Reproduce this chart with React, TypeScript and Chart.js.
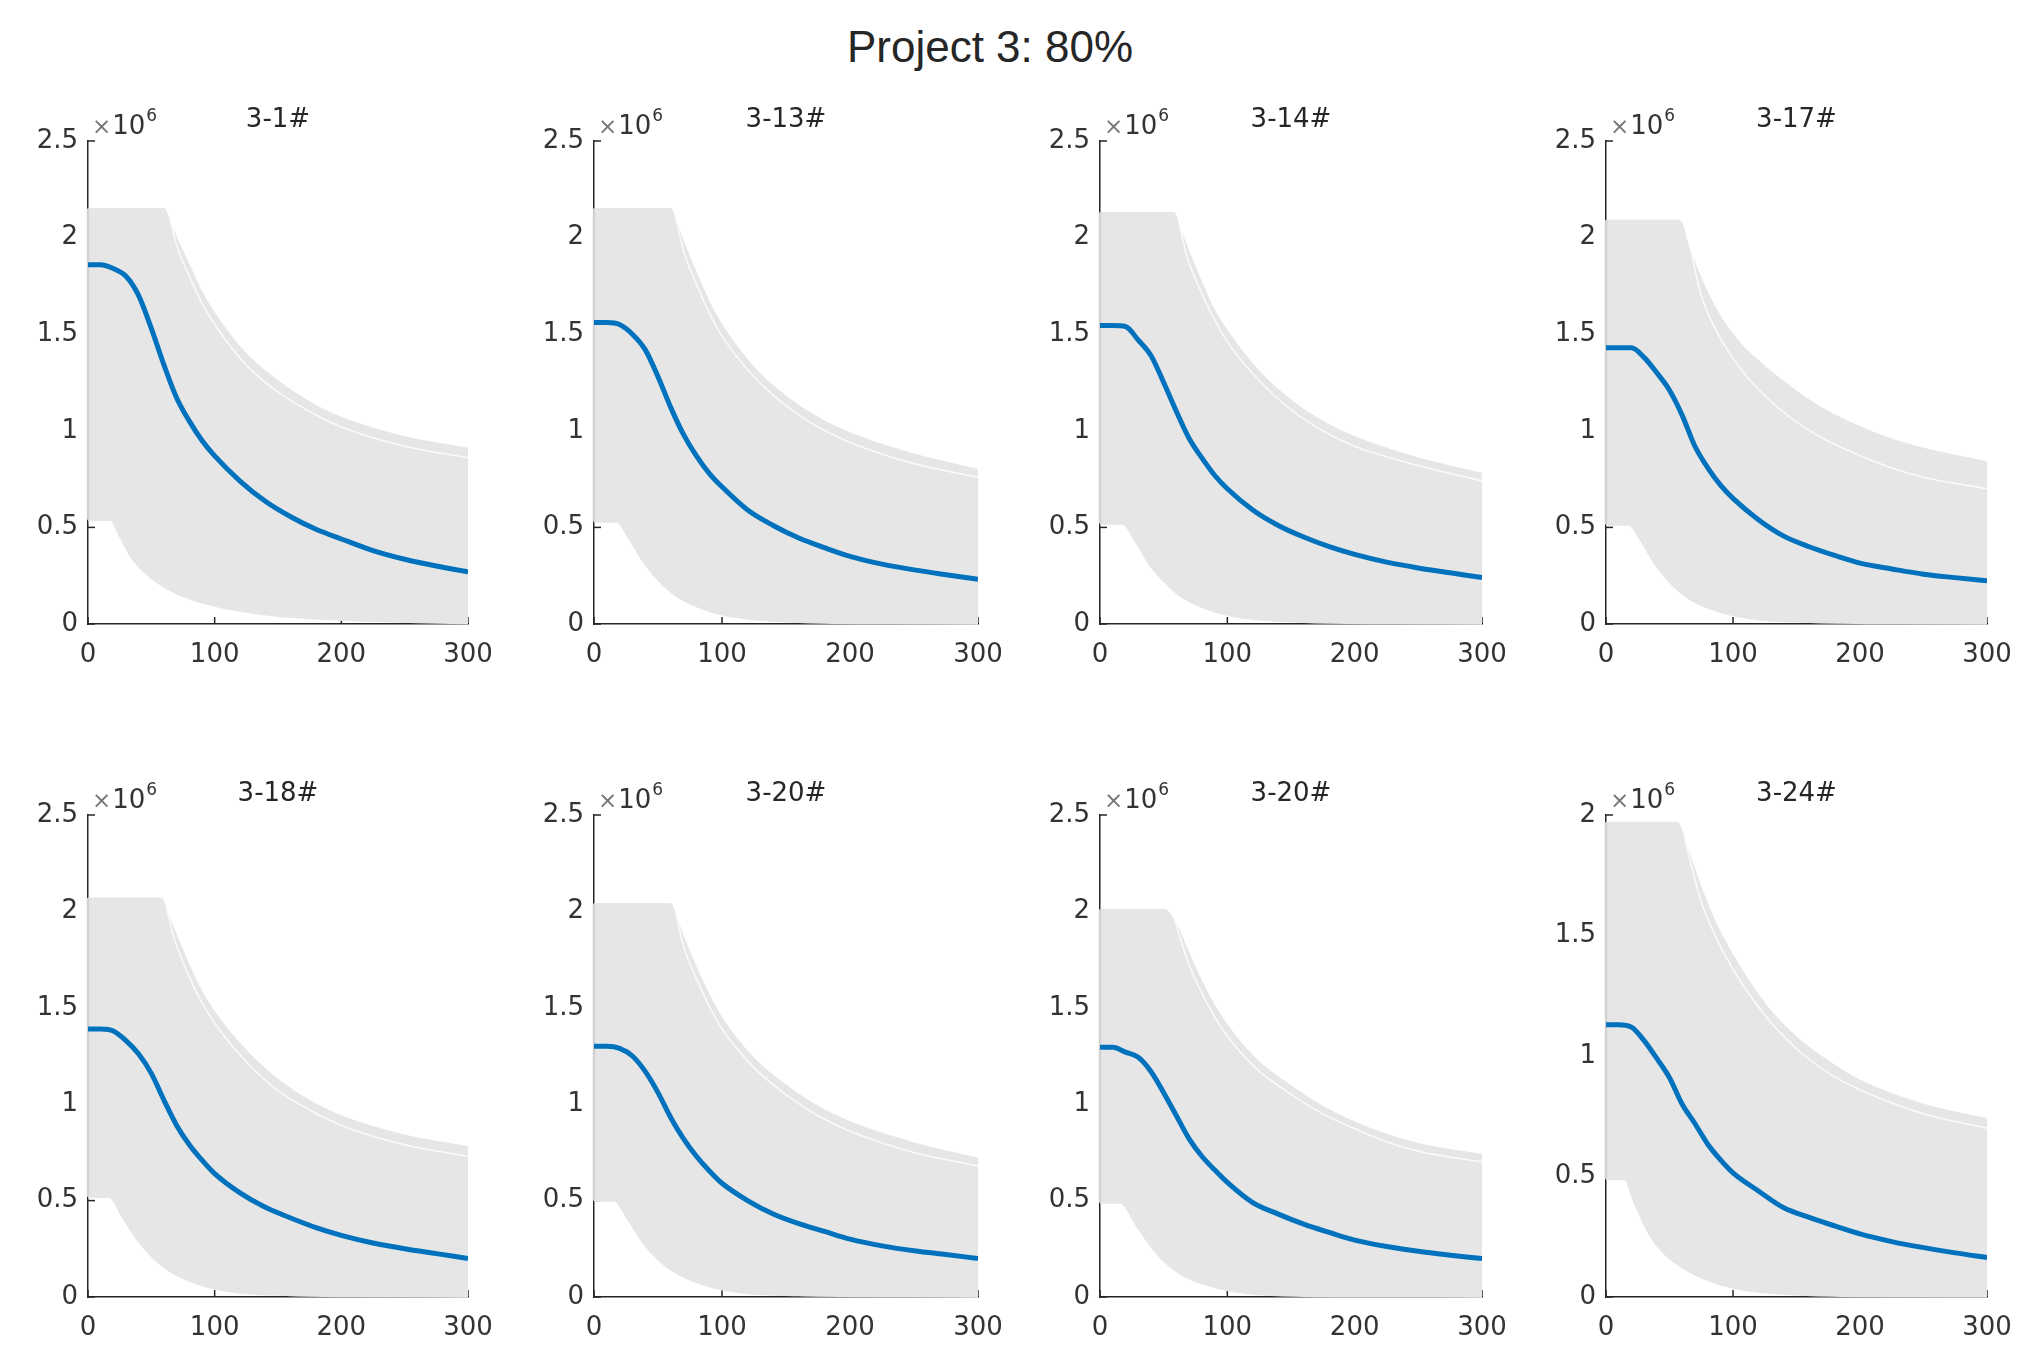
import React, { useEffect, useRef } from 'react';
import { Chart, registerables } from 'chart.js';

Chart.register(...registerables);

// ---------------- DATA (values in units of 10^6) ----------------
const FIGURE_TITLE = 'Project 3: 80%';
const PANEL_TITLES = ['3-1#', '3-13#', '3-14#', '3-17#', '3-18#', '3-20#', '3-20#', '3-24#'];
const Y_MAX = [2.5, 2.5, 2.5, 2.5, 2.5, 2.5, 2.5, 2.0];
const X_TICKS = [0, 100, 200, 300];
const Y_TICKS_25 = [0, 0.5, 1, 1.5, 2, 2.5];
const Y_TICKS_20 = [0, 0.5, 1, 1.5, 2];

// mean (blue) curves
const MEAN_X = [0, 10, 20, 30, 40, 50, 60, 70, 80, 90, 100, 120, 140, 160, 180, 200, 225, 250, 275, 300];
const MEAN_1 = [1.86, 1.86, 1.84, 1.80, 1.70, 1.53, 1.34, 1.17, 1.05, 0.95, 0.87, 0.74, 0.635, 0.555, 0.49, 0.44, 0.38, 0.335, 0.30, 0.27];
const MEAN_2 = [1.56, 1.56, 1.55, 1.50, 1.42, 1.28, 1.12, 0.98, 0.87, 0.78, 0.71, 0.59, 0.51, 0.445, 0.395, 0.35, 0.31, 0.28, 0.255, 0.232];
const MEAN_3 = [1.545, 1.545, 1.54, 1.47, 1.39, 1.25, 1.10, 0.96, 0.86, 0.77, 0.70, 0.59, 0.51, 0.45, 0.40, 0.36, 0.32, 0.29, 0.265, 0.24];
const MEAN_4 = [1.43, 1.43, 1.43, 1.38, 1.30, 1.21, 1.08, 0.92, 0.81, 0.72, 0.65, 0.54, 0.455, 0.40, 0.355, 0.315, 0.285, 0.258, 0.24, 0.224];
const MEAN_5 = [1.39, 1.39, 1.38, 1.33, 1.26, 1.16, 1.02, 0.89, 0.79, 0.71, 0.64, 0.54, 0.465, 0.41, 0.36, 0.32, 0.28, 0.25, 0.225, 0.20];
const MEAN_6 = [1.30, 1.30, 1.29, 1.25, 1.17, 1.06, 0.93, 0.82, 0.73, 0.655, 0.59, 0.50, 0.43, 0.38, 0.34, 0.30, 0.265, 0.24, 0.22, 0.20];
const MEAN_7 = [1.295, 1.295, 1.27, 1.243, 1.17, 1.06, 0.94, 0.82, 0.73, 0.66, 0.595, 0.49, 0.43, 0.378, 0.335, 0.295, 0.262, 0.237, 0.217, 0.199];
const MEAN_8 = [1.13, 1.13, 1.12, 1.064, 0.99, 0.91, 0.80, 0.72, 0.635, 0.57, 0.515, 0.44, 0.37, 0.33, 0.295, 0.262, 0.23, 0.205, 0.183, 0.164];

// upper envelope of the simulated (grey) curves
const UP_X_1 = [0, 60, 65, 70, 80, 90, 100, 125, 150, 175, 200, 250, 300];
const UP_1 = [2.15, 2.15, 2.08, 2.00, 1.86, 1.72, 1.61, 1.40, 1.26, 1.15, 1.07, 0.97, 0.91];
const UP_X_2 = [0, 60, 65, 70, 80, 90, 100, 125, 150, 175, 200, 250, 300];
const UP_2 = [2.15, 2.15, 2.07, 1.98, 1.82, 1.67, 1.55, 1.33, 1.18, 1.07, 0.99, 0.88, 0.80];
const UP_X_3 = [0, 58, 63, 68, 78, 88, 100, 125, 150, 175, 200, 250, 300];
const UP_3 = [2.13, 2.13, 2.05, 1.96, 1.80, 1.65, 1.52, 1.31, 1.16, 1.05, 0.97, 0.86, 0.78];
const UP_X_4 = [0, 58, 66, 79, 92, 105, 119, 145, 171, 197, 224, 250, 300];
const UP_4 = [2.09, 2.09, 1.94, 1.73, 1.575, 1.46, 1.37, 1.23, 1.115, 1.03, 0.96, 0.91, 0.84];
const UP_X_5 = [0, 58, 63, 68, 78, 88, 100, 125, 150, 175, 200, 250, 300];
const UP_5 = [2.07, 2.07, 1.99, 1.91, 1.75, 1.61, 1.48, 1.28, 1.13, 1.02, 0.94, 0.84, 0.78];
const UP_X_6 = [0, 60, 65, 70, 80, 90, 100, 125, 150, 175, 200, 250, 300];
const UP_6 = [2.04, 2.04, 1.96, 1.87, 1.71, 1.57, 1.45, 1.24, 1.10, 0.99, 0.91, 0.80, 0.72];
const UP_X_7 = [0, 51, 61, 69, 82, 96, 122, 148, 175, 201, 227, 254, 300];
const UP_7 = [2.01, 2.01, 1.92, 1.80, 1.61, 1.45, 1.24, 1.105, 0.99, 0.905, 0.84, 0.79, 0.74];
const UP_X_8 = [0, 56, 65, 75, 85, 100, 125, 150, 175, 200, 250, 300];
const UP_8 = [1.97, 1.97, 1.85, 1.70, 1.57, 1.42, 1.22, 1.08, 0.98, 0.90, 0.80, 0.74];

// a visible gap between the top-most simulated curves and the rest
const GAP_X_1 = [64, 70, 80, 90, 100, 125, 150, 175, 200, 250, 300];
const GAP_1 = [2.12, 1.96, 1.80, 1.66, 1.55, 1.34, 1.20, 1.10, 1.02, 0.92, 0.86];
const GAP_X_2 = [64, 70, 80, 90, 100, 125, 150, 175, 200, 250, 300];
const GAP_2 = [2.10, 1.93, 1.76, 1.61, 1.49, 1.28, 1.13, 1.02, 0.94, 0.83, 0.76];
const GAP_X_3 = [62, 68, 78, 88, 100, 125, 150, 175, 200, 250, 300];
const GAP_3 = [2.08, 1.91, 1.74, 1.60, 1.46, 1.26, 1.11, 1.00, 0.92, 0.82, 0.74];
const GAP_X_4 = [64, 75, 90, 105, 119, 145, 171, 197, 224, 250, 300];
const GAP_4 = [2.02, 1.70, 1.48, 1.33, 1.22, 1.07, 0.96, 0.88, 0.81, 0.76, 0.70];
const GAP_X_5 = [62, 68, 78, 88, 100, 125, 150, 175, 200, 250, 300];
const GAP_5 = [2.02, 1.86, 1.69, 1.55, 1.42, 1.22, 1.07, 0.97, 0.89, 0.79, 0.73];
const GAP_X_6 = [64, 70, 80, 90, 100, 125, 150, 175, 200, 250, 300];
const GAP_6 = [1.99, 1.82, 1.65, 1.51, 1.39, 1.19, 1.05, 0.94, 0.86, 0.75, 0.68];
const GAP_X_7 = [58, 69, 82, 96, 122, 148, 175, 201, 227, 254, 300];
const GAP_7 = [1.97, 1.74, 1.55, 1.39, 1.19, 1.06, 0.95, 0.87, 0.80, 0.75, 0.70];
const GAP_X_8 = [62, 75, 85, 100, 125, 150, 175, 200, 250, 300];
const GAP_8 = [1.90, 1.64, 1.51, 1.36, 1.17, 1.03, 0.93, 0.86, 0.76, 0.70];

// lower envelope of the simulated (grey) curves
const LO_X_1 = [0, 18, 25, 35, 50, 70, 100, 140, 180, 220, 260, 300];
const LO_1 = [0.54, 0.54, 0.46, 0.34, 0.24, 0.16, 0.095, 0.05, 0.03, 0.018, 0.01, 0.005];
const LO_X_2 = [0, 18, 27, 40, 53, 66, 92, 119, 160, 220, 300];
const LO_2 = [0.53, 0.53, 0.45, 0.31, 0.21, 0.14, 0.065, 0.03, 0.012, 0.005, 0.003];
const LO_X_3 = [0, 18, 27, 40, 53, 66, 92, 119, 160, 220, 300];
const LO_3 = [0.52, 0.52, 0.44, 0.30, 0.205, 0.135, 0.062, 0.028, 0.012, 0.005, 0.003];
const LO_X_4 = [0, 18, 27, 40, 53, 66, 92, 119, 160, 220, 300];
const LO_4 = [0.515, 0.515, 0.44, 0.30, 0.20, 0.13, 0.06, 0.026, 0.012, 0.005, 0.003];
const LO_X_5 = [0, 17, 27, 40, 53, 66, 92, 119, 160, 220, 300];
const LO_5 = [0.52, 0.52, 0.42, 0.29, 0.195, 0.13, 0.058, 0.025, 0.011, 0.005, 0.003];
const LO_X_6 = [0, 16, 27, 40, 53, 66, 92, 119, 160, 220, 300];
const LO_6 = [0.50, 0.50, 0.40, 0.27, 0.18, 0.12, 0.053, 0.022, 0.01, 0.005, 0.003];
const LO_X_7 = [0, 16, 30, 43, 56, 69, 96, 122, 160, 220, 300];
const LO_7 = [0.49, 0.49, 0.36, 0.24, 0.155, 0.10, 0.043, 0.017, 0.007, 0.004, 0.003];
const LO_X_8 = [0, 15, 22, 35, 49, 76, 104, 158, 220, 300];
const LO_8 = [0.49, 0.49, 0.40, 0.255, 0.167, 0.08, 0.035, 0.009, 0.004, 0.003];

const MEANS = [MEAN_1, MEAN_2, MEAN_3, MEAN_4, MEAN_5, MEAN_6, MEAN_7, MEAN_8];
const UPS_X = [UP_X_1, UP_X_2, UP_X_3, UP_X_4, UP_X_5, UP_X_6, UP_X_7, UP_X_8];
const UPS = [UP_1, UP_2, UP_3, UP_4, UP_5, UP_6, UP_7, UP_8];
const GAPS_X = [GAP_X_1, GAP_X_2, GAP_X_3, GAP_X_4, GAP_X_5, GAP_X_6, GAP_X_7, GAP_X_8];
const GAPS = [GAP_1, GAP_2, GAP_3, GAP_4, GAP_5, GAP_6, GAP_7, GAP_8];
const LOS_X = [LO_X_1, LO_X_2, LO_X_3, LO_X_4, LO_X_5, LO_X_6, LO_X_7, LO_X_8];
const LOS = [LO_1, LO_2, LO_3, LO_4, LO_5, LO_6, LO_7, LO_8];

// ---------------- LAYOUT ----------------
const PAGE_W = 2039;
const PAGE_H = 1367;
const AXIS_LEFT = [88, 594, 1100, 1606];
const AXIS_RIGHT = [468, 978, 1482, 1987];
const AXIS_TOP = [141, 815];
const AXIS_BOTTOM = [624, 1297];
const PAD_L = 20, PAD_T = 70, PAD_R = 45, PAD_B = 10;
const Y_AXIS_W = 70, X_AXIS_H = 56;

const INK = '#262626';
const LABEL = '#333333';
const GREY = '#e6e6e6';
const BLUE = '#0072BD';
const FONT = '"DejaVu Sans"';

const toPts = (xs: number[], ys: number[]) => xs.map((x, i) => ({ x, y: ys[i] }));

const decorPlugin = {
  id: 'decor',
  beforeDatasetsDraw(chart: any, _args: any, opts: any) {
    const { ctx, chartArea, scales } = chart;
    ctx.save();
    ctx.strokeStyle = INK;
    ctx.lineWidth = 1.5;
    for (const v of opts.yTicks) {
      const y = scales.y.getPixelForValue(v);
      ctx.beginPath();
      ctx.moveTo(chartArea.left, y);
      ctx.lineTo(chartArea.left + 7, y);
      ctx.stroke();
    }
    for (const v of X_TICKS) {
      const x = scales.x.getPixelForValue(v);
      ctx.beginPath();
      ctx.moveTo(x, chartArea.bottom);
      ctx.lineTo(x, chartArea.bottom - 7);
      ctx.stroke();
    }
    ctx.restore();
  },
  afterDraw(chart: any, _args: any, opts: any) {
    const { ctx, chartArea } = chart;
    ctx.save();
    // subplot title
    ctx.fillStyle = INK;
    ctx.font = `26px ${FONT}`;
    ctx.textAlign = 'center';
    ctx.textBaseline = 'alphabetic';
    ctx.fillText(opts.title, (chartArea.left + chartArea.right) / 2, chartArea.top - 14);
    // exponent label  x10^6
    ctx.textAlign = 'left';
    let x = chartArea.left + 4;
    const base = chartArea.top - 7;
    ctx.fillStyle = '#777777';
    ctx.font = `23px ${FONT}`;
    ctx.fillText('\u00d7', x, base);
    x += ctx.measureText('\u00d7').width + 1;
    ctx.fillStyle = LABEL;
    ctx.font = `26px ${FONT}`;
    ctx.fillText('10', x, base);
    x += ctx.measureText('10').width + 1;
    ctx.font = `17px ${FONT}`;
    ctx.fillText('6', x, base - 13);
    ctx.restore();
  },
};

function Panel({ idx }: { idx: number }) {
  const ref = useRef<HTMLCanvasElement>(null);
  const col = idx % 4;
  const row = Math.floor(idx / 4);
  const plotW = AXIS_RIGHT[col] - AXIS_LEFT[col];
  const plotH = AXIS_BOTTOM[row] - AXIS_TOP[row];
  const W = plotW + PAD_L + Y_AXIS_W + PAD_R;
  const H = plotH + PAD_T + X_AXIS_H + PAD_B;
  const left = AXIS_LEFT[col] - PAD_L - Y_AXIS_W;
  const top = AXIS_TOP[row] - PAD_T;

  useEffect(() => {
    if (!ref.current) return;
    const ymax = Y_MAX[idx];
    const yTicks = ymax > 2.2 ? Y_TICKS_25 : Y_TICKS_20;
    const lo = LOS[idx];
    const up = UPS[idx];
    const chart = new Chart(ref.current, {
      type: 'line',
      data: {
        datasets: [
          {
            label: 'mean',
            data: toPts(MEAN_X, MEANS[idx]),
            borderColor: BLUE,
            borderWidth: 5,
            pointRadius: 0,
            fill: false,
            cubicInterpolationMode: 'monotone',
          },
          {
            label: 'start edge',
            data: [{ x: 0, y: lo[0] }, { x: 0, y: up[0] }],
            borderColor: '#d2d2d2',
            borderWidth: 2.5,
            pointRadius: 0,
            fill: false,
            clip: 6,
          },
          {
            label: 'gap',
            data: toPts(GAPS_X[idx], GAPS[idx]),
            borderColor: 'rgba(255,255,255,0.8)',
            borderWidth: 1.6,
            pointRadius: 0,
            fill: false,
            cubicInterpolationMode: 'monotone',
          },
          {
            label: 'lower',
            data: toPts(LOS_X[idx], lo),
            borderColor: GREY,
            borderWidth: 2.5,
            pointRadius: 0,
            fill: false,
            clip: 6,
            cubicInterpolationMode: 'monotone',
          },
          {
            label: 'upper',
            data: toPts(UPS_X[idx], up),
            borderColor: GREY,
            backgroundColor: GREY,
            borderWidth: 1,
            pointRadius: 0,
            fill: '-1',
            cubicInterpolationMode: 'monotone',
          },
        ],
      },
      options: {
        animation: false,
        responsive: false,
        events: [],
        layout: { padding: { left: PAD_L, top: PAD_T, right: PAD_R, bottom: PAD_B } },
        plugins: {
          legend: { display: false },
          tooltip: { enabled: false },
          decor: { title: PANEL_TITLES[idx], yTicks },
        } as any,
        scales: {
          x: {
            type: 'linear',
            min: 0,
            max: 300,
            afterBuildTicks: (s: any) => { s.ticks = X_TICKS.map((v) => ({ value: v })); },
            ticks: {
              color: LABEL,
              font: { family: 'DejaVu Sans', size: 26 },
              padding: 16,
              maxRotation: 0,
              autoSkip: false,
              callback: (v: any) => String(v),
            },
            grid: { display: false, drawTicks: false },
            border: { display: true, color: INK, width: 1.5 },
            afterFit: (s: any) => { s.height = X_AXIS_H; },
          },
          y: {
            type: 'linear',
            min: 0,
            max: ymax,
            afterBuildTicks: (s: any) => { s.ticks = yTicks.map((v) => ({ value: v })); },
            ticks: {
              color: LABEL,
              font: { family: 'DejaVu Sans', size: 26 },
              padding: 10,
              autoSkip: false,
              callback: (v: any) => String(Number(Number(v).toFixed(1))),
            },
            grid: { display: false, drawTicks: false },
            border: { display: true, color: INK, width: 1.5 },
            afterFit: (s: any) => { s.width = Y_AXIS_W; },
          },
        },
      },
      plugins: [decorPlugin],
    } as any);
    return () => chart.destroy();
  }, [idx]);

  return (
    <canvas
      ref={ref}
      width={W}
      height={H}
      style={{ position: 'absolute', left, top, width: W, height: H }}
    />
  );
}

export default function App() {
  return (
    <div
      style={{
        position: 'absolute',
        left: 0,
        top: 0,
        width: PAGE_W,
        height: PAGE_H,
        background: '#ffffff',
        overflow: 'hidden',
      }}
    >
      <div
        style={{
          position: 'absolute',
          left: 990,
          top: 25,
          transform: 'translateX(-50%)',
          fontFamily: '"Liberation Sans", Arial, sans-serif',
          fontSize: 44,
          lineHeight: '44px',
          color: INK,
          whiteSpace: 'nowrap',
        }}
      >
        {FIGURE_TITLE}
      </div>
      {PANEL_TITLES.map((_, i) => (
        <Panel key={i} idx={i} />
      ))}
    </div>
  );
}
